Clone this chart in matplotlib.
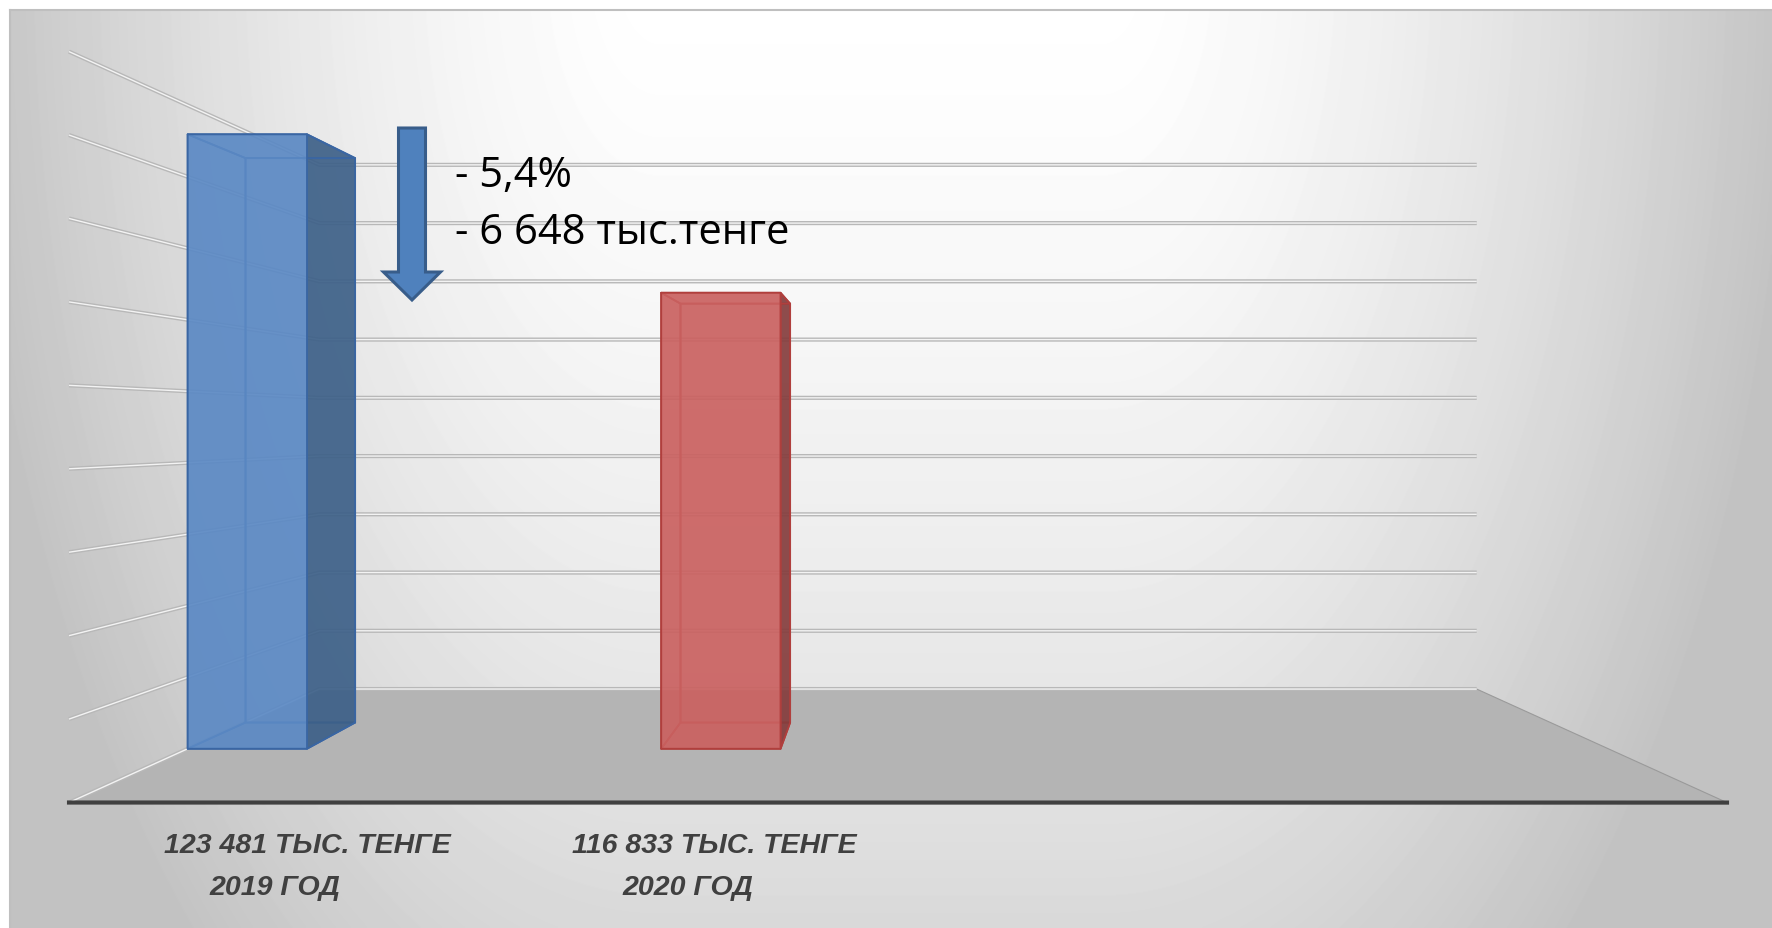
import numpy as np
import matplotlib
matplotlib.use('Agg')
import matplotlib.pyplot as plt
import matplotlib.patheffects as pe
from matplotlib.patches import FancyArrow

# data (тыс. тенге)
years = [2019, 2020]
values = [123481, 116833]
front_colors = ['#5b89c4', '#ca6160']
side_colors = ['#3d6088', '#853d3d']
edge_colors = ['#3a66a3', '#b03f3d']

n_slots = 3              # третья категория пустая
z_min, z_step, n_grid = 97700, 3000, 9

W, H, DPI = 1772, 929, 100
fig = plt.figure(figsize=(W / DPI, H / DPI), dpi=DPI)

# background gradient with grey border on top / left
bg = fig.add_axes([10 / W, 0, (W - 10) / W, (H - 11) / H])
yy, xx = np.mgrid[0:H - 11, 0:W - 10]
dx = np.maximum(np.abs(xx + 10 - 880) - 220, 0) / 680.0
dy = (yy + 11 + 40) / 1300.0
r = np.sqrt(dx ** 2 + dy ** 2)
shade = np.clip(0.77 + 0.23 * (1 - r ** 1.5), 0.765, 1.0)
bg.imshow(shade, cmap='gray', vmin=0, vmax=1, aspect='auto', interpolation='bilinear')
bg.set_xticks([])
bg.set_yticks([])
for side in ['right', 'bottom']:
    bg.spines[side].set_visible(False)
for side in ['top', 'left']:
    bg.spines[side].set_color('#bfbfbf')
    bg.spines[side].set_linewidth(1.5)

# 3d axes with perspective, eye at the middle of the box
raw = np.array([1658 / 751, 1.0, 1.0])
zoom = 0.9
aspect_n = raw * 1.8294640721620434 * 25 / 24 * zoom / np.linalg.norm(raw)
depth_ratio = 0.698
focal = aspect_n[1] / 2 * (1 + depth_ratio) / (1 - depth_ratio) / 10
half_w = focal * (aspect_n[0] / 2) / (10 * focal - aspect_n[1] / 2)
S = 829 * 0.185 / half_w
cx, cy = 898, H - 428
left = cx - 0.095 / 0.185 * S
bottom = cy - 0.095 / 0.185 * S

ax = fig.add_axes([left / W, bottom / H, S / W, S / H], projection='3d')
ax.set_box_aspect(raw, zoom=zoom)
ax.set_proj_type('persp', focal_length=focal)
ax.view_init(elev=0.01, azim=-89.99)
ax.set_facecolor((0, 0, 0, 0))

clear = (0, 0, 0, 0)
for i, v in enumerate(values):
    fc = matplotlib.colors.to_rgba(front_colors[i], 0.92)
    sc = matplotlib.colors.to_rgba(side_colors[i], 0.92)
    # faces: bottom, top, front, back, left, right
    ax.bar3d(i, 0.386, z_min, 0.252, 0.239, v - z_min,
             color=[clear, clear, fc, clear, clear, sc], shade=False,
             edgecolor=edge_colors[i], linewidth=1.3)

ax.set_xlim(0, n_slots, view_margin=0)
ax.set_ylim(0, 1, view_margin=0)
ax.set_zlim(z_min, z_min + n_grid * z_step, view_margin=0)
ax.set_xticks([])
ax.set_yticks([])
ax.set_zticks(z_min + z_step * np.arange(n_grid + 1))
ax.set_zticklabels([])
ax.zaxis._axinfo['tick']['inward_factor'] = 0
ax.zaxis._axinfo['tick']['outward_factor'] = 0

ax.xaxis.set_pane_color((1, 1, 1, 0))
ax.yaxis.set_pane_color((1, 1, 1, 0))
ax.zaxis.set_pane_color('#b4b4b4')
ax.xaxis.pane.set_edgecolor(clear)
ax.yaxis.pane.set_edgecolor(clear)
ax.zaxis.pane.set_edgecolor('#9a9a9a')
ax.zaxis.pane.set_linewidth(0.8)

ax.xaxis.line.set_color('#404040')
ax.xaxis.line.set_linewidth(3)
ax.yaxis.line.set_color(clear)
ax.zaxis.line.set_color(clear)

ax.zaxis._axinfo['grid'].update(color='#f3f3f3', linewidth=1.0)
ax.zaxis.gridlines.set_path_effects([pe.Stroke(linewidth=3.0, foreground='#b8b8b8'), pe.Normal()])

# overlay in pixel coordinates for labels and arrow
ov = fig.add_axes([0, 0, 1, 1])
ov.set_xlim(0, W)
ov.set_ylim(H, 0)
ov.axis('off')
ov.patch.set_alpha(0)

line1_x = [164, 572]
line2_x = [209, 622]
lab_font = dict(family=['Liberation Sans Narrow', 'Liberation Sans'], fontsize=20.5,
                fontweight='bold', fontstyle='italic', color='#404040')
for i, v in enumerate(values):
    ov.text(line1_x[i], 853, f"{v:,}".replace(',', ' ') + " ТЫС. ТЕНГЕ", va='baseline', **lab_font)
    ov.text(line2_x[i], 895, f"{years[i]} ГОД", va='baseline', **lab_font)

diff = values[0] - values[1]
pct = diff / values[0] * 100
txt_font = dict(family=['Open Sans', 'DejaVu Sans'], fontsize=30, color='black')
ov.text(455, 187, f"- {pct:.1f}%".replace('.', ','), va='baseline', **txt_font)
ov.text(455, 244, f"- {diff:,}".replace(',', ' ') + " тыс.тенге", va='baseline', **txt_font)

ov.add_patch(FancyArrow(412, 129, 0, 172, width=27, head_width=57, head_length=28,
                        length_includes_head=True, facecolor='#4f81bd',
                        edgecolor='#385d8a', linewidth=2.2))

fig.savefig('out.png', dpi=DPI)
